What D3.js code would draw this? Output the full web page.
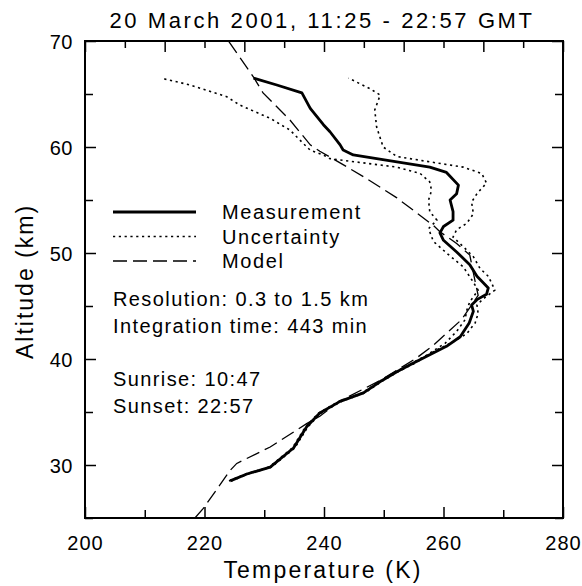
<!DOCTYPE html>
<html>
<head>
<meta charset="utf-8">
<script src="https://cdn.jsdelivr.net/npm/d3@7"></script>
<style>
  body { margin: 0; background: #fff; }
  text { font-family: "Liberation Sans", Arial, sans-serif; fill: #000; }
</style>
</head>
<body>
<script>
// measurement profile (altitude km, temperature K)
const measAlt  = [28.5, 29.15, 29.8, 31.6, 33.6, 34.9, 36.0, 36.8, 38.0, 38.8, 39.6, 40.4, 41.2, 42.1, 43.4, 44.5, 45.1, 45.6, 46.1, 46.7, 47.8, 48.9, 50.1, 51.2, 51.9, 52.5, 53.1, 53.9, 55.0, 55.6, 56.4, 57.6, 58.1, 58.6, 59.25, 59.72, 60.2, 61.44, 62.1, 63.65, 65.1, 65.85, 66.5];
const measTemp = [224.3, 227.1, 231.0, 234.9, 237.1, 239.3, 242.7, 246.6, 249.8, 252.2, 254.9, 257.7, 260.5, 262.8, 264.3, 265.0, 264.7, 265.6, 267.2, 267.5, 265.6, 264.4, 262.2, 260.0, 259.4, 260.0, 261.6, 261.6, 261.1, 262.2, 262.5, 260.5, 257.7, 252.2, 244.9, 243.2, 242.7, 241.0, 239.9, 237.7, 236.3, 232.1, 228.2];

// uncertainty, lower bound
const lowAlt  = [28.5, 29.15, 29.8, 31.6, 33.6, 34.9, 36.0, 36.8, 38.0, 38.8, 39.6, 40.4, 41.5, 42.6, 43.7, 44.6, 45.4, 46.5, 47.5, 48.7, 50.0, 51.1, 52.3, 53.1, 53.9, 55.0, 55.9, 56.7, 57.5, 58.1, 58.5, 58.9, 59.25, 59.7, 60.35, 61.6, 62.7, 63.96, 64.75, 65.85, 66.5];
const lowTemp = [224.1, 226.9, 230.8, 234.7, 236.9, 239.1, 242.5, 246.4, 249.6, 252.0, 254.7, 257.3, 260.3, 262.2, 263.6, 263.9, 264.4, 265.8, 264.7, 263.3, 260.5, 258.3, 257.5, 258.9, 257.7, 257.5, 258.0, 257.7, 256.1, 252.2, 246.6, 241.0, 239.9, 237.7, 236.5, 234.3, 231.0, 225.9, 223.7, 217.6, 212.7];

// uncertainty, upper bound
const highAlt  = [28.5, 29.15, 29.8, 31.6, 33.6, 34.9, 36.0, 36.8, 38.0, 38.8, 39.6, 40.85, 41.6, 42.4, 43.4, 44.3, 45.1, 45.7, 46.5, 47.8, 48.55, 49.65, 50.6, 51.5, 52.2, 52.8, 53.7, 54.8, 55.6, 56.6, 57.5, 58.1, 58.6, 59.1, 60.0, 61.9, 63.5, 64.9, 65.5, 66.5];
const highTemp = [224.5, 227.3, 231.2, 235.1, 237.3, 239.5, 242.9, 246.8, 250.0, 252.4, 255.2, 258.8, 261.6, 263.9, 265.3, 265.8, 265.6, 266.7, 268.6, 267.5, 266.1, 265.0, 263.3, 261.6, 262.2, 263.9, 265.0, 264.7, 265.6, 267.2, 266.4, 263.3, 257.7, 252.2, 249.9, 248.8, 248.5, 249.4, 247.7, 244.1];

// model profile
const modelAlt  = [25.0, 25.9, 29.5, 30.15, 31.7, 33.9, 34.6, 36.0, 38.0, 40.1, 41.3, 43.7, 46.0, 47.3, 49.8, 50.9, 52.0, 52.6, 55.2, 57.2, 58.6, 59.6, 60.2, 62.55, 65.1, 66.6, 70.0];
const modelTemp = [218.4, 219.8, 224.3, 225.4, 231.0, 237.1, 239.3, 242.5, 249.5, 255.5, 258.3, 263.0, 265.8, 265.3, 264.4, 262.2, 259.4, 258.3, 252.2, 246.6, 242.4, 239.3, 237.7, 234.3, 229.8, 228.2, 224.0];

const xTicks = [200, 210, 220, 230, 240, 250, 260, 270, 280];
const yTicks = [25, 30, 35, 40, 45, 50, 55, 60, 65, 70];

const legendLabels = ["Measurement", "Uncertainty", "Model"];
const notes = ["Resolution: 0.3 to 1.5 km", "Integration time: 443 min", "", "Sunrise: 10:47", "Sunset: 22:57"];
const title = "20 March 2001, 11:25 - 22:57 GMT";

const W = 582, H = 586;
const m = { left: 85, right: 563, top: 41, bottom: 518 };

const svg = d3.select("body").append("svg")
  .attr("width", W).attr("height", H);

const x = d3.scaleLinear().domain([200, 280]).range([m.left, m.right]);
const y = d3.scaleLinear().domain([25, 70]).range([m.bottom, m.top]);
const xTop = d3.scaleLinear().domain([0, 12]).range([m.left, m.right]);

svg.append("clipPath").attr("id", "plot")
  .append("rect").attr("x", m.left).attr("y", m.top)
  .attr("width", m.right - m.left).attr("height", m.bottom - m.top);

// axes (ticks inward)
const gx = svg.append("g").attr("transform", `translate(0,${m.bottom})`)
  .call(d3.axisBottom(x).tickValues(xTicks).tickSize(-8)
    .tickFormat(d => d % 20 === 0 ? d : ""));
gx.selectAll("line").attr("y2", d => d % 20 === 0 ? -11 : -8);
gx.selectAll("text").attr("y", 32).attr("dy", null)
  .style("font-size", "20px").style("letter-spacing", "1px");

const gt = svg.append("g").attr("transform", `translate(0,${m.top})`)
  .call(d3.axisTop(xTop).ticks(12).tickSize(-7).tickFormat(""));
gt.selectAll("line").attr("y2", d => d % 2 === 0 ? 11 : 7);

const gy = svg.append("g").attr("transform", `translate(${m.left},0)`)
  .call(d3.axisLeft(y).tickValues(yTicks).tickSize(-8)
    .tickFormat(d => d % 10 === 0 && d > 25 ? d : ""));
gy.selectAll("line").attr("x2", d => d % 10 === 0 ? 11 : 8);
gy.selectAll("text").attr("x", -12).attr("dy", "0.36em")
  .style("font-size", "20px").style("letter-spacing", "0.5px");

const gr = svg.append("g").attr("transform", `translate(${m.right},0)`)
  .call(d3.axisRight(y).tickValues(yTicks).tickSize(-8).tickFormat(""));
gr.selectAll("line").attr("x2", d => d % 10 === 0 ? -11 : -8);

svg.selectAll(".domain").remove();
svg.selectAll(".tick line").attr("stroke", "#000").attr("stroke-width", 1.5);

svg.append("rect")
  .attr("x", m.left).attr("y", m.top)
  .attr("width", m.right - m.left).attr("height", m.bottom - m.top)
  .attr("fill", "none").attr("stroke", "#000").attr("stroke-width", 2);

// profiles
const line = d3.line().x(d => x(d[1])).y(d => y(d[0]));
const zip = (a, t) => a.map((v, i) => [v, t[i]]);

const plot = svg.append("g").attr("clip-path", "url(#plot)");

const styles = {
  meas:  { w: 2.8, dash: null },
  unc:   { w: 1.6, dash: "2.2,3.6" },
  model: { w: 1.3, dash: "14,6" }
};

plot.append("path").datum(zip(modelAlt, modelTemp))
  .attr("d", line).attr("fill", "none").attr("stroke", "#000")
  .attr("stroke-width", styles.model.w).attr("stroke-dasharray", styles.model.dash);

[zip(lowAlt, lowTemp), zip(highAlt, highTemp)].forEach(pts => {
  plot.append("path").datum(pts)
    .attr("d", line).attr("fill", "none").attr("stroke", "#000")
    .attr("stroke-width", styles.unc.w).attr("stroke-dasharray", styles.unc.dash);
});

plot.append("path").datum(zip(measAlt, measTemp))
  .attr("d", line).attr("fill", "none").attr("stroke", "#000")
  .attr("stroke-width", styles.meas.w).attr("stroke-linejoin", "round");

// legend
const legStyles = [styles.meas, styles.unc, styles.model];
const leg = svg.append("g");
legendLabels.forEach((lab, i) => {
  const yy = 212 + i * 24.5;
  leg.append("line").attr("x1", 113).attr("x2", 196)
    .attr("y1", yy).attr("y2", yy)
    .attr("stroke", "#000").attr("stroke-width", legStyles[i].w)
    .attr("stroke-dasharray", legStyles[i].dash);
  leg.append("text").attr("x", 222).attr("y", yy + 7)
    .style("font-size", "20px").style("letter-spacing", "1.6px")
    .text(lab);
});

// notes
notes.forEach((t, i) => {
  if (!t) return;
  svg.append("text").attr("x", 113).attr("y", 306 + i * 26.8)
    .style("font-size", "20px").style("letter-spacing", "1.4px")
    .text(t);
});

// titles
svg.append("text").attr("x", 322).attr("y", 28)
  .attr("text-anchor", "middle")
  .style("font-size", "22px").style("letter-spacing", "2.6px")
  .text(title);

svg.append("text").attr("x", 323).attr("y", 578)
  .attr("text-anchor", "middle")
  .style("font-size", "23px").style("letter-spacing", "2.2px")
  .text("Temperature (K)");

svg.append("text")
  .attr("transform", `translate(33,${(m.top + m.bottom) / 2 + 2}) rotate(-90)`)
  .attr("text-anchor", "middle")
  .style("font-size", "23px").style("letter-spacing", "2px")
  .text("Altitude (km)");
</script>
</body>
</html>
